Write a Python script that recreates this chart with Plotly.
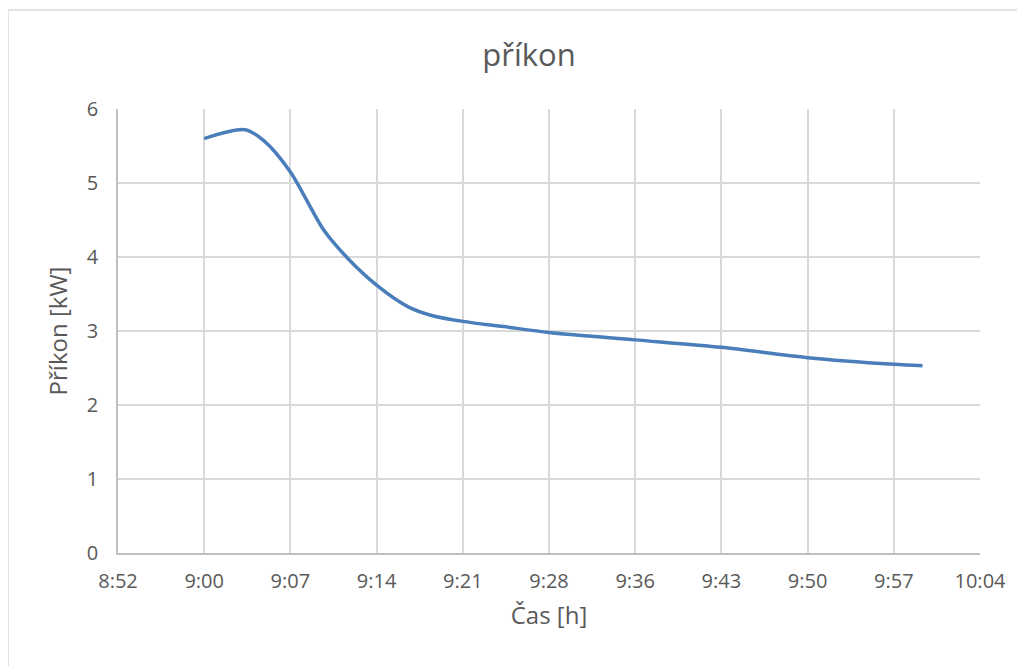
import plotly.graph_objects as go

times = ["2024-01-01 09:00:00", "2024-01-01 09:03:24", "2024-01-01 09:05:00",
         "2024-01-01 09:07:12", "2024-01-01 09:10:00", "2024-01-01 09:12:00",
         "2024-01-01 09:14:24", "2024-01-01 09:17:00", "2024-01-01 09:19:00",
         "2024-01-01 09:21:36", "2024-01-01 09:25:00", "2024-01-01 09:28:48",
         "2024-01-01 09:36:00", "2024-01-01 09:43:12", "2024-01-01 09:50:24",
         "2024-01-01 09:57:36", "2024-01-01 10:00:00"]
power = [5.60, 5.72, 5.57, 5.15, 4.36, 3.98, 3.62, 3.33, 3.21, 3.13, 3.06,
         2.98, 2.88, 2.78, 2.64, 2.55, 2.53]

x_start = "2024-01-01 08:52:48"
x_end = "2024-01-01 10:04:48"
tick_step_ms = 432000

grey = "#595959"
font_family = "Open Sans, Noto Sans, sans-serif"

L, T, PW, PH = 110, 101, 862, 444

fig = go.Figure()
fig.add_trace(go.Scatter(x=times, y=power, mode="lines",
                         line=dict(color="#4a7ebb", width=3.5, shape="spline", smoothing=0.8),
                         showlegend=False))

border = dict(color="#d9d9d9", width=1.5)
fig.update_layout(
    width=1025, height=666,
    margin=dict(l=L, r=1025 - L - PW, t=T, b=666 - T - PH),
    paper_bgcolor="white", plot_bgcolor="white",
    title=dict(text="příkon", x=(529 - 8 - L) / PW, xref="paper", xanchor="center",
               y=1 - 47 / 666, yanchor="middle",
               font=dict(family=font_family, size=31, color=grey)),
    font=dict(family=font_family, color=grey),
    shapes=[
        dict(type="line", xref="paper", yref="paper",
             x0=-L / PW, x1=-L / PW, y0=-0.5, y1=1 + (T - 2) / PH,
             line=border, layer="below"),
        dict(type="line", xref="paper", yref="paper",
             x0=-L / PW, x1=1.2, y0=1 + (T - 2) / PH, y1=1 + (T - 2) / PH,
             line=border, layer="below"),
    ],
)

fig.update_xaxes(
    type="date", range=[x_start, x_end],
    tick0=x_start, dtick=tick_step_ms, tickformat="%-H:%M",
    showgrid=True, gridcolor="#d9d9d9", gridwidth=1.5,
    showline=True, linecolor="#bfbfbf", linewidth=1.5,
    ticks="outside", ticklen=9, tickcolor="rgba(0,0,0,0)",
    tickfont=dict(size=20, color=grey),
    title=dict(text="Čas [h]", font=dict(size=24, color=grey), standoff=14),
    zeroline=False,
)
fig.update_yaxes(
    range=[0, 6], dtick=1,
    showgrid=True, gridcolor="#d9d9d9", gridwidth=1.5,
    showline=True, linecolor="#bfbfbf", linewidth=1.5,
    ticks="outside", ticklen=14, tickcolor="rgba(0,0,0,0)",
    tickfont=dict(size=20, color=grey),
    title=dict(text="Příkon [kW]", font=dict(size=24, color=grey), standoff=12),
    zeroline=False,
)

fig.write_html("out.html")
